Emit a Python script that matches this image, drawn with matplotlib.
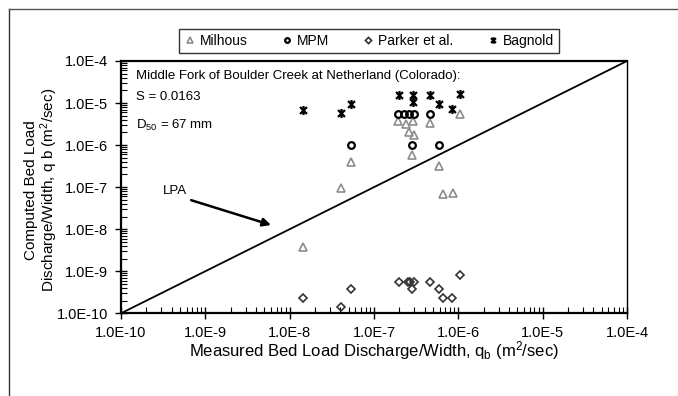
import numpy as np
import matplotlib
matplotlib.use("Agg")
import matplotlib.pyplot as plt
from matplotlib.path import Path
from matplotlib.lines import Line2D
from matplotlib.ticker import LogLocator, FuncFormatter, NullFormatter

plt.rcParams['font.family'] = ['Liberation Sans', 'DejaVu Sans']
plt.rcParams['mathtext.default'] = 'regular'

# measured / computed bed load discharge per width (m2/sec)
milhous_x = [1.44e-8, 4.1e-8, 5.4e-8, 1.9e-7, 2.4e-7, 2.9e-7, 2.62e-7, 3.0e-7, 2.8e-7, 4.6e-7, 5.9e-7, 6.6e-7, 8.7e-7, 1.05e-6]
milhous_y = [3.8e-9, 9.4e-8, 4.0e-7, 3.7e-6, 3.2e-6, 3.7e-6, 2.1e-6, 1.77e-6, 5.8e-7, 3.4e-6, 3.1e-7, 6.8e-8, 7.4e-8, 5.5e-6]

mpm_x = [5.4e-8, 1.9e-7, 2.27e-7, 2.62e-7, 3.0e-7, 2.8e-7, 4.6e-7, 5.9e-7]
mpm_y = [1.0e-6, 5.5e-6, 5.5e-6, 5.5e-6, 5.5e-6, 1.0e-6, 5.5e-6, 1.0e-6]

parker_x = [1.44e-8, 4.1e-8, 5.4e-8, 2.0e-7, 2.5e-7, 2.7e-7, 3.0e-7, 2.8e-7, 4.6e-7, 5.9e-7, 6.6e-7, 8.5e-7, 1.05e-6]
parker_y = [2.3e-10, 1.44e-10, 3.7e-10, 5.5e-10, 5.5e-10, 5.5e-10, 5.5e-10, 3.7e-10, 5.5e-10, 3.7e-10, 2.3e-10, 2.3e-10, 8.1e-10]

bagnold_x = [1.44e-8, 4.1e-8, 5.4e-8, 2.0e-7, 2.9e-7, 2.9e-7, 4.6e-7, 5.9e-7, 8.5e-7, 1.05e-6]
bagnold_y = [6.8e-6, 5.7e-6, 9.3e-6, 1.53e-5, 1.53e-5, 1.06e-5, 1.53e-5, 9.5e-6, 7.3e-6, 1.64e-5]

lpa_ends = [1e-10, 1e-4]

# star marker like excel: x plus vertical bar
star = Path([(-1, -1), (1, 1), (-1, 1), (1, -1), (0, -1.3), (0, 1.3)],
            [Path.MOVETO, Path.LINETO, Path.MOVETO, Path.LINETO, Path.MOVETO, Path.LINETO])

fig = plt.figure(figsize=(6.78, 3.96), dpi=100)
ax = fig.add_axes([121/678, 1-313.3/396, 506/678, 252.3/396])

ax.plot(lpa_ends, lpa_ends, color='black', lw=1.3, zorder=1)

ax.plot(milhous_x, milhous_y, ls='none', marker='^', ms=6, mfc='none', mec='#8c8c8c', mew=1.2, label='Milhous')
ax.plot(mpm_x, mpm_y, ls='none', marker='o', ms=4.8, mfc='none', mec='black', mew=1.6, label='MPM')
ax.plot(parker_x, parker_y, ls='none', marker='D', ms=4.5, mfc='none', mec='#333333', mew=1.2, label='Parker et al.')
ax.plot(bagnold_x, bagnold_y, ls='none', marker=star, ms=6.5, mec='black', mew=1.6, label='Bagnold')

ax.set_xscale('log')
ax.set_yscale('log')
ax.set_xlim(1e-10, 1e-4)
ax.set_ylim(1e-10, 1e-4)

fmt = FuncFormatter(lambda v, p: "1.0E%d" % int(round(np.log10(v))))
for axis in (ax.xaxis, ax.yaxis):
    axis.set_major_locator(LogLocator(base=10, numticks=10))
    axis.set_minor_locator(LogLocator(base=10, subs=np.arange(2, 10), numticks=10))
    axis.set_major_formatter(fmt)
    axis.set_minor_formatter(NullFormatter())

ax.tick_params(which='major', direction='inout', length=8, width=1, labelsize=10.5, pad=5)
ax.tick_params(which='minor', direction='in', length=4, width=0.8)
ax.tick_params(top=False, right=False, which='both')

for s in ['left', 'bottom', 'top']:
    ax.spines[s].set_linewidth(1.6)
ax.spines['right'].set_linewidth(1.0)

ax.text(0.03, 0.94, "Middle Fork of Boulder Creek at Netherland (Colorado):", transform=ax.transAxes,
        fontsize=9.5, va='center', ha='left')
ax.text(0.03, 0.856, "S = 0.0163", transform=ax.transAxes, fontsize=9.5, va='center', ha='left')
ax.text(0.03, 0.746, "D$_{50}$ = 67 mm", transform=ax.transAxes, fontsize=9.5, va='center', ha='left')

ax.annotate("", xy=(10**-8.19, 10**-7.92), xytext=(10**-9.2, 10**-7.29),
            arrowprops=dict(arrowstyle='-|>', color='black', lw=1.8, mutation_scale=12))
ax.text(10**-9.5, 10**-7.08, "LPA", fontsize=9.5, va='center', ha='left')

fig.text(374/678, 1-351/396, "Measured Bed Load Discharge/Width, q$_b$ (m$^2$/sec)",
         fontsize=12, ha='center', va='center')
fig.text(42/678, 1-190/396, "Computed Bed Load\nDischarge/Width, q b (m$^2$/sec)",
         fontsize=11, ha='center', va='center', rotation=90, multialignment='center', linespacing=1.05)

leg = ax.legend(loc='center', bbox_to_anchor=(369/678, 1-41/396), bbox_transform=fig.transFigure,
                ncol=4, fontsize=10, frameon=True, fancybox=False, edgecolor='black',
                handlelength=0.8, handletextpad=0.3, columnspacing=2.45, markerscale=0.7,
                borderpad=0.35, borderaxespad=0)
leg.get_frame().set_linewidth(1.0)

# outer frame, cut off on the right and bottom
fig.add_artist(Line2D([9/678, 9/678], [0, 1-9/396], transform=fig.transFigure, color='#333333', lw=1))
fig.add_artist(Line2D([9/678, 1], [1-9/396, 1-9/396], transform=fig.transFigure, color='#555555', lw=1))

fig.savefig('out.png', dpi=100)
